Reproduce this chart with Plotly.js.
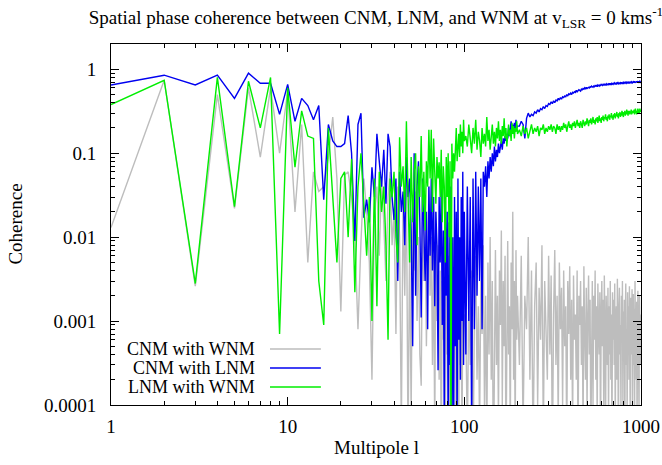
<!DOCTYPE html>
<html>
<head>
<meta charset="utf-8">
<script src="https://cdn.plot.ly/plotly-3.0.1.min.js"></script>
<style>html,body{margin:0;padding:0;background:#fff}#chart{width:662px;height:465px}</style>
</head>
<body>
<div id="chart"></div>
<script>
// Multipole grid: every l up to 100, every 2nd up to 200, every 5th up to 1000
const lLow = []; for (let l = 1; l <= 100; l++) lLow.push(l);
const lMid = []; for (let l = 102; l <= 200; l += 2) lMid.push(l);
const lHigh = []; for (let l = 205; l <= 1000; l += 5) lHigh.push(l);
const multipole = lLow.concat(lMid, lHigh);

const seriesNames = ['CNM with WNM', 'CNM with LNM', 'LNM with WNM'];

// CNM with WNM (grey)
const cnmWnmLow = [
 0.013,0.74,0.0026,0.5,0.022,0.6,0.09,0.6,0.1,0.55,
 0.02,0.22,0.005,0.06,0.035,0.04,0.09,0.27,0.05,0.0013,
 0.055,0.06,0.03,0.01,0.0008,0.009,0.05,0.02,0.005,0.0002,
 0.02,0.04,0.006,0.05,0.015,0.003,0.03,0.06,0.008,0.02,
 0.0007,0.04,0.01,0.00005,0.03,0.002,0.05,0.00003,0.008,0.00008,
 0.02,0.004,0.035,0.001,0.01,0.0004,0.00017,0.015,0.003,0.02,
 0.0005,0.008,0.04,0.002,0.01,0.0003,0.006,0.00004,0.02,0.001,
 0.008,0.0002,0.004,0.00002,0.003,0.0006,0.01,0.00005,0.002,0.0004,
 0.006,0.00003,0.001,0.0002,0.004,0.00001,0.0015,0.0005,0.003,0.00002,
 0.0008,0.002,0.00006,0.005,0.0003,0.001,0.00003,0.002,0.0004,0.0012
];
const cnmWnmMid = [
 0.0008,0.00004,0.002,0.0003,0.004,0.00002,0.001,0.006,0.0002,0.0015,
 0.00005,0.003,0.0007,0.008,0.0001,0.002,0.00003,0.005,0.0004,0.01,
 0.0002,0.003,0.00001,0.0012,0.007,0.0003,0.002,0.00006,0.004,0.0009,
 0.012,0.0001,0.003,0.0005,0.006,0.00002,0.002,0.009,0.0004,0.0015,
 0.00004,0.005,0.0008,0.02,0.0002,0.003,0.00003,0.007,0.0006,0.002
];
const cnmWnmHigh = [
 0.0003,0.006,0.00005,0.002,0.0008,0.01,0.0002,0.004,0.00003,0.0015,
 0.005,0.0001,0.0025,0.0006,0.008,0.00004,0.003,0.0009,0.0002,0.006,
 0.0004,0.0035,0.00002,0.0012,0.007,0.0003,0.002,0.00006,0.005,0.0008,
 0.0025,0.0001,0.004,0.0005,0.0015,0.00003,0.003,0.0007,0.0045,0.0002,
 0.0018,0.00005,0.0035,0.0006,0.0012,0.0002,0.004,0.00002,0.002,0.0009,
 0.003,0.0003,0.0015,0.00004,0.0045,0.0007,0.0002,0.0025,0.00008,0.0012,
 0.0035,0.0004,0.0018,0.00003,0.0009,0.003,0.0001,0.002,0.0006,0.004,
 0.0002,0.0015,0.00005,0.0028,0.0008,0.0004,0.0022,0.00002,0.0012,0.003,
 0.0005,0.0018,0.0001,0.0035,0.0007,0.00004,0.002,0.0009,0.0003,0.0025,
 0.00006,0.0015,0.0004,0.003,0.0002,0.0012,0.00003,0.0022,0.0006,0.0018,
 0.0003,0.0028,0.00005,0.001,0.0015,0.0002,0.0032,0.0007,0.00002,0.0014,
 0.0025,0.0004,0.0009,0.00008,0.002,0.0006,0.003,0.0001,0.0013,0.0005,
 0.0018,0.00003,0.0011,0.0028,0.0003,0.0008,0.00006,0.0022,0.0005,0.0015,
 0.0002,0.0026,0.0007,0.00004,0.0019,0.0004,0.0012,0.0024,0.0001,0.0009,
 0.0021,0.0003,0.0014,0.00005,0.003,0.0006,0.0011,0.0002,0.0017,0.00003,
 0.0008,0.0023,0.0004,0.0013,0.00007,0.002,0.0005,0.0016,0.0003,0.0012
];

// CNM with LNM (blue)
const cnmLnmLow = [
 0.65,0.85,0.65,0.85,0.45,0.9,0.68,0.68,0.29,0.66,
 0.24,0.45,0.37,0.25,0.37,0.028,0.22,0.14,0.12,0.12,
 0.13,0.28,0.1,0.009,0.22,0.3,0.017,0.028,0.015,0.068,
 0.03,0.17,0.08,0.04,0.11,0.025,0.17,0.12,0.03,0.016,
 0.05,0.003,0.06,0.02,0.035,0.008,0.09,0.03,0.05,0.012,
 0.0005,0.1,0.002,0.04,0.08,0.015,0.0011,0.05,0.012,0.003,
 0.02,0.0008,0.04,0.006,0.05,0.004,0.03,0.0015,0.02,0.008,
 0.00026,0.03,0.005,0.04,0.0009,0.012,0.00005,0.03,0.002,0.02,
 0.00003,0.015,0.0003,0.04,0.0001,0.01,0.00002,0.03,0.0005,0.02,
 0.00004,0.05,0.0006,0.01,0.0002,0.03,0.001,0.06,0.0003,0.02
];
const cnmLnmMid = [
 0.0004,0.04,0.001,0.03,0.00005,0.05,0.0008,0.06,0.002,0.04,
 0.003,0.05,0.0008,0.06,0.04,0.07,0.03,0.08,0.05,0.09,
 0.06,0.1,0.07,0.12,0.08,0.11,0.09,0.13,0.1,0.12,
 0.14,0.11,0.15,0.13,0.16,0.14,0.17,0.15,0.2,0.16,
 0.19,0.24,0.18,0.22,0.17,0.23,0.19,0.25,0.2,0.21
];
const cnmLnmHigh = [
 0.21,0.24,0.22,0.15,0.26,0.3,0.27,0.29,0.28,0.31,
 0.3,0.33,0.31,0.34,0.33,0.36,0.34,0.37,0.36,0.39,
 0.38,0.41,0.39,0.42,0.4,0.43,0.42,0.45,0.43,0.46,
 0.44,0.47,0.46,0.48,0.47,0.5,0.48,0.51,0.5,0.52,
 0.5,0.53,0.52,0.54,0.53,0.56,0.54,0.55,0.57,0.56,
 0.55,0.58,0.57,0.59,0.58,0.6,0.58,0.61,0.59,0.6,
 0.61,0.6,0.62,0.61,0.63,0.62,0.61,0.63,0.62,0.64,
 0.63,0.64,0.62,0.65,0.64,0.63,0.65,0.64,0.66,0.65,
 0.64,0.66,0.65,0.67,0.65,0.66,0.64,0.67,0.66,0.65,
 0.67,0.66,0.68,0.66,0.67,0.65,0.68,0.67,0.66,0.68,
 0.67,0.69,0.67,0.66,0.68,0.67,0.69,0.68,0.67,0.69,
 0.68,0.67,0.69,0.68,0.7,0.68,0.67,0.69,0.68,0.7,
 0.69,0.68,0.7,0.69,0.68,0.7,0.69,0.71,0.69,0.68,
 0.7,0.69,0.71,0.68,0.7,0.69,0.71,0.7,0.69,0.7,
 0.71,0.69,0.7,0.72,0.7,0.69,0.71,0.7,0.72,0.7,
 0.71,0.7,0.72,0.69,0.71,0.7,0.72,0.71,0.7,0.71
];

// LNM with WNM (green)
const lnmWnmLow = [
 0.38,0.74,0.0028,0.8,0.023,0.72,0.2,0.8,0.0007,0.6,
 0.068,0.32,0.16,0.15,0.003,0.0009,0.2,0.03,0.005,0.05,
 0.06,0.01,0.085,0.0022,0.04,0.1,0.02,0.006,0.03,0.001,
 0.05,0.0015,0.06,0.02,0.04,0.008,0.0006,0.05,0.03,0.06,
 0.01,0.005,0.155,0.04,0.07,0.02,0.24,0.03,0.005,0.09,
 0.015,0.06,0.1,0.008,0.07,0.03,0.16,0.02,0.06,0.012,
 0.08,0.04,0.19,0.05,0.19,0.02,0.15,0.06,0.025,0.09,
 0.05,0.078,0.03,0.11,0.015,0.07,0.04,0.005,0.09,0.03,
 0.1,0.01,0.08,0.00002,0.13,0.05,0.1,0.06,0.15,0.2,
 0.08,0.14,0.17,0.09,0.22,0.12,0.18,0.1,0.25,0.14
];
const lnmWnmMid = [
 0.16,0.12,0.22,0.15,0.1,0.2,0.13,0.25,0.11,0.18,
 0.14,0.09,0.2,0.13,0.17,0.12,0.27,0.14,0.19,0.11,
 0.16,0.22,0.13,0.18,0.12,0.2,0.15,0.24,0.14,0.19,
 0.13,0.21,0.16,0.26,0.15,0.2,0.12,0.18,0.22,0.16,
 0.19,0.14,0.23,0.17,0.21,0.15,0.2,0.18,0.24,0.17
];
const lnmWnmHigh = [
 0.19,0.16,0.21,0.17,0.2,0.15,0.19,0.22,0.17,0.2,
 0.18,0.21,0.16,0.2,0.19,0.22,0.17,0.2,0.18,0.21,
 0.19,0.22,0.18,0.21,0.2,0.17,0.22,0.19,0.21,0.18,
 0.21,0.19,0.23,0.2,0.22,0.18,0.21,0.24,0.2,0.22,
 0.19,0.23,0.21,0.24,0.2,0.22,0.25,0.21,0.23,0.2,
 0.24,0.22,0.2,0.25,0.23,0.21,0.24,0.22,0.26,0.23,
 0.21,0.25,0.23,0.26,0.22,0.24,0.27,0.23,0.25,0.22,
 0.26,0.24,0.27,0.23,0.25,0.28,0.24,0.26,0.23,0.27,
 0.25,0.28,0.24,0.27,0.26,0.29,0.25,0.27,0.24,0.28,
 0.26,0.29,0.25,0.28,0.27,0.3,0.26,0.28,0.25,0.29,
 0.27,0.3,0.26,0.29,0.28,0.31,0.27,0.29,0.26,0.3,
 0.28,0.31,0.27,0.3,0.28,0.32,0.29,0.3,0.27,0.31,
 0.29,0.32,0.28,0.31,0.29,0.33,0.3,0.31,0.28,0.32,
 0.3,0.32,0.29,0.31,0.3,0.33,0.29,0.32,0.3,0.31,
 0.32,0.3,0.33,0.29,0.31,0.34,0.3,0.32,0.29,0.33,
 0.31,0.34,0.3,0.32,0.33,0.3,0.34,0.31,0.33,0.32
];

const xTickVals = [1, 10, 100, 1000];
const xTickText = ['1', '10', '100', '1000'];
const yTickVals = [0.0001, 0.001, 0.01, 0.1, 1];
const yTickText = ['0.0001', '0.001', '0.01', '0.1', '1'];

const cnmWnm = cnmWnmLow.concat(cnmWnmMid, cnmWnmHigh);
const cnmLnm = cnmLnmLow.concat(cnmLnmMid, cnmLnmHigh);
const lnmWnm = lnmWnmLow.concat(lnmWnmMid, lnmWnmHigh);

const colors = ['#bdbdbd', '#0000f0', '#00ee00'];
const FONT = 'Liberation Serif, Times New Roman, serif';
const FS = 19;
const LEG_FS = 18;

const traces = [cnmWnm, cnmLnm, lnmWnm].map((ys, i) => ({
  x: multipole, y: ys, type: 'scatter', mode: 'lines',
  name: seriesNames[i], line: {color: colors[i], width: 1.4}
}));

const minorX = [];
[1, 10, 100].forEach(d => { for (let k = 2; k <= 9; k++) minorX.push(d * k); });
const minorY = [];
[0.0001, 0.001, 0.01, 0.1, 1].forEach(d => { for (let k = 2; k <= 9; k++) if (d * k <= 2) minorY.push(d * k); });

const axisCommon = {
  type: 'log', ticks: 'inside', ticklen: 8, tickwidth: 1, tickcolor: '#000',
  showline: true, linecolor: '#000', linewidth: 1, mirror: 'allticks',
  showgrid: false, zeroline: false, automargin: false,
  tickfont: {family: FONT, size: FS, color: '#000'}
};

const legendY = [0.155, 0.1025, 0.05];
const annotations = [
  {text: 'Multipole l', xref: 'paper', yref: 'paper', x: 0.5, y: -0.119, showarrow: false,
   xanchor: 'center', yanchor: 'middle', font: {family: FONT, size: FS, color: '#000'}},
  {text: 'Coherence', xref: 'paper', yref: 'paper', x: -0.181, y: 0.5, showarrow: false, textangle: -90,
   xanchor: 'center', yanchor: 'middle', font: {family: FONT, size: FS, color: '#000'}}
];
const shapes = [];
seriesNames.forEach((n, i) => {
  annotations.push({text: n, xref: 'paper', yref: 'paper', x: 0.2755, y: legendY[i], showarrow: false,
    xanchor: 'right', yanchor: 'middle', font: {family: FONT, size: LEG_FS, color: '#000'}});
  shapes.push({type: 'line', xref: 'paper', yref: 'paper', x0: 0.3, x1: 0.396, y0: legendY[i], y1: legendY[i],
    line: {color: colors[i], width: 1.4}});
});

const layout = {
  width: 662, height: 465,
  margin: {l: 111, r: 21, t: 44, b: 60, pad: 0},
  paper_bgcolor: '#fff', plot_bgcolor: '#fff',
  showlegend: false,
  font: {family: FONT, size: FS, color: '#000'},
  title: {
    text: 'Spatial phase coherence between CNM, LNM, and WNM at v<sub>LSR</sub> = 0 kms<sup>-1</sup>',
    x: 0.5, xref: 'paper', xanchor: 'center', y: 0.963, yref: 'container', yanchor: 'middle',
    font: {family: FONT, size: FS, color: '#000'}
  },
  xaxis: Object.assign({}, axisCommon, {
    range: [0, 3], tickmode: 'array', tickvals: xTickVals, ticktext: xTickText,
    ticklabelstandoff: 4,
    minor: {tickmode: 'array', tickvals: minorX, ticks: 'inside', ticklen: 4, tickcolor: '#000', showgrid: false}
  }),
  yaxis: Object.assign({}, axisCommon, {
    range: [-4, Math.log10(2)], tickmode: 'array', tickvals: yTickVals, ticktext: yTickText,
    ticklabelstandoff: 10,
    minor: {tickmode: 'array', tickvals: minorY, ticks: 'inside', ticklen: 4, tickcolor: '#000', showgrid: false}
  }),
  annotations: annotations,
  shapes: shapes
};

Plotly.newPlot('chart', traces, layout, {displayModeBar: false, staticPlot: true});
</script>
</body>
</html>
